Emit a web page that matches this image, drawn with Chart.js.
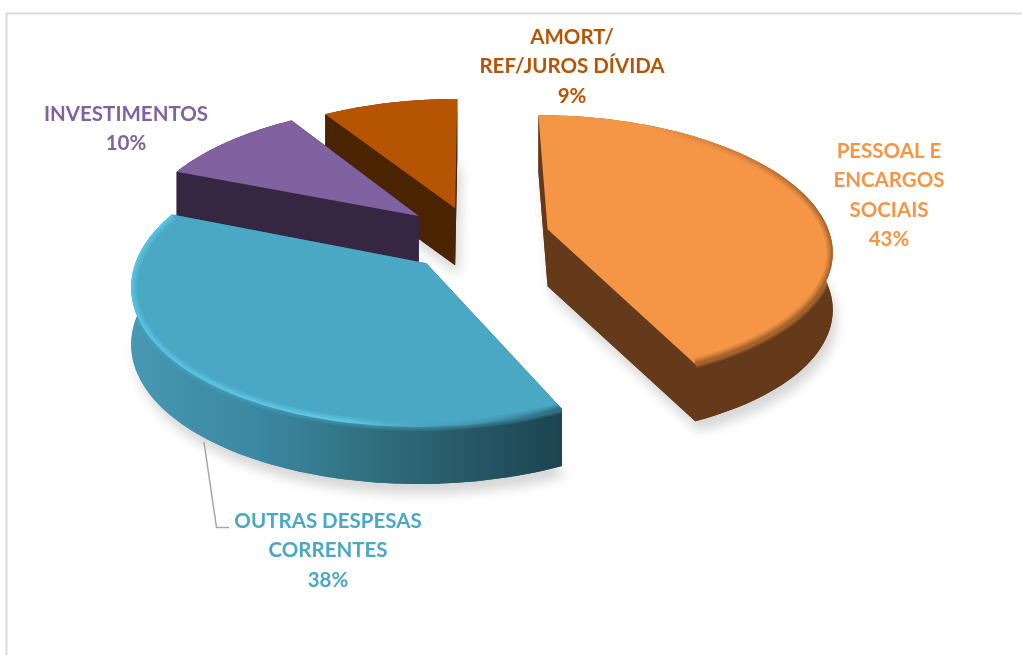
<!DOCTYPE html>
<html>
<head>
<meta charset="utf-8">
<title>Despesas</title>
<script src="https://cdn.jsdelivr.net/npm/chart.js@4/dist/chart.umd.min.js"></script>
<style>
  html, body { margin: 0; padding: 0; background: #fff; }
  canvas { display: block; }
</style>
</head>
<body>
<canvas id="pieChart" width="1022" height="655"></canvas>
<script>
// values, clockwise from 12 o'clock
const categories = ['PESSOAL E ENCARGOS SOCIAIS', 'OUTRAS DESPESAS CORRENTES', 'INVESTIMENTOS', 'AMORT/ REF/JUROS DÍVIDA'];
const percentages = [43, 38, 10, 9];
const labelLines = [
  ['PESSOAL E', 'ENCARGOS', 'SOCIAIS'],
  ['OUTRAS DESPESAS', 'CORRENTES'],
  ['INVESTIMENTOS'],
  ['AMORT/', 'REF/JUROS DÍVIDA']
];

const topColors = ['#F59546', '#4AA8C4', '#8062A0', '#B55504'];
const sideColors = ['#643A1B', null, '#352742', '#4A2300'];
const explode = [76, 75, 72, 66];
const nudgeX = [1, 6, 0, 0]; // the blue slice was dragged a bit off its own axis
const drawOrder = [3, 2, 0, 1];

// where the label blocks sit (centre x, first baseline y)
const labelPos = [[889, 158], [328, 528], [126, 121], [572, 44]];
const lineHeight = 29.3;

// fake 3D view
const view = { cx: 473, cy: 237, tilt: 0.4675, persp: 0.0005, depth: 57 };

function project(wx, wy, z) {
  const k = 1 / (1 - wy * view.persp);
  return [view.cx + wx * k, view.cy + wy * view.tilt * k + z];
}

function rimPoints(arc, z, nudge) {
  const mid = (arc.startAngle + arc.endAngle) / 2;
  const ox = Math.cos(mid) * arc.options.offset + nudge;
  const oy = Math.sin(mid) * arc.options.offset;
  const pts = [];
  for (let i = 0; i <= 80; i++) {
    const a = arc.startAngle + (arc.endAngle - arc.startAngle) * i / 80;
    pts.push(project(ox + Math.cos(a) * arc.outerRadius, oy + Math.sin(a) * arc.outerRadius, z));
  }
  return { apex: project(ox, oy, z), pts: pts };
}

function tracePoly(ctx, pts) {
  ctx.beginPath();
  pts.forEach((p, i) => i ? ctx.lineTo(p[0], p[1]) : ctx.moveTo(p[0], p[1]));
  ctx.closePath();
}

function traceLine(ctx, pts) {
  ctx.beginPath();
  pts.forEach((p, i) => i ? ctx.lineTo(p[0], p[1]) : ctx.moveTo(p[0], p[1]));
}

function sideFill(ctx, i) {
  if (sideColors[i]) return sideColors[i];
  const g = ctx.createLinearGradient(130, 0, 565, 0);
  g.addColorStop(0, '#4798B2');
  g.addColorStop(0.3, '#3A87A1');
  g.addColorStop(0.55, '#30707F');
  g.addColorStop(0.8, '#265664');
  g.addColorStop(1, '#1C4350');
  return g;
}

function bevelStroke(ctx, i) {
  if (i === 0) {
    const g = ctx.createLinearGradient(640, 130, 800, 340);
    g.addColorStop(0, 'rgba(70, 35, 10, 0)');
    g.addColorStop(0.6, 'rgba(70, 35, 10, 0.12)');
    g.addColorStop(1, 'rgba(70, 35, 10, 0.14)');
    return g;
  }
  if (i !== 1) return null;
  const g = ctx.createLinearGradient(130, 0, 565, 0);
  g.addColorStop(0, 'rgba(100, 215, 250, 0.18)');
  g.addColorStop(0.5, 'rgba(110, 225, 255, 0.2)');
  g.addColorStop(0.75, 'rgba(60, 130, 155, 0.08)');
  g.addColorStop(1, 'rgba(20, 60, 75, 0.2)');
  return g;
}

function drawSlice(ctx, arc, i) {
  const top = rimPoints(arc, 0, nudgeX[i]);
  const bottom = rimPoints(arc, view.depth, nudgeX[i]);
  const fill = sideFill(ctx, i);
  const first = top.pts[0], last = top.pts[top.pts.length - 1];
  const firstB = bottom.pts[0], lastB = bottom.pts[bottom.pts.length - 1];

  // soft shadow under the block
  ctx.save();
  ctx.shadowColor = 'rgba(0, 0, 0, 0.16)';
  ctx.shadowBlur = 12;
  ctx.shadowOffsetX = 4;
  ctx.shadowOffsetY = 10;
  ctx.fillStyle = fill;
  tracePoly(ctx, [bottom.apex].concat(bottom.pts));
  ctx.fill();
  ctx.restore();

  ctx.fillStyle = fill;
  tracePoly(ctx, [top.apex, first, firstB, bottom.apex]);
  ctx.fill();
  tracePoly(ctx, [top.apex, last, lastB, bottom.apex]);
  ctx.fill();
  const wall = top.pts.concat(bottom.pts.slice().reverse());
  tracePoly(ctx, wall);
  ctx.fill();

  const stroke = bevelStroke(ctx, i);

  // top colour bleeds a little onto the wall
  if (stroke) {
    ctx.save();
    tracePoly(ctx, wall);
    ctx.clip();
    ctx.strokeStyle = arc.options.backgroundColor;
    ctx.globalAlpha = 0.22;
    [8, 5, 2].forEach(w => {
      ctx.lineWidth = w;
      traceLine(ctx, top.pts);
      ctx.stroke();
    });
    ctx.restore();
  }

  ctx.fillStyle = arc.options.backgroundColor;
  tracePoly(ctx, [top.apex].concat(top.pts));
  ctx.fill();

  // rounded edge of the top face
  if (stroke) {
    ctx.save();
    tracePoly(ctx, [top.apex].concat(top.pts));
    ctx.clip();
    ctx.strokeStyle = stroke;
    ctx.lineJoin = 'round';
    [12, 8, 5, 3].forEach(w => {
      ctx.lineWidth = w;
      traceLine(ctx, top.pts);
      ctx.stroke();
    });
    ctx.restore();
  }
}

const pie3d = {
  id: 'pie3d',
  beforeDatasetsDraw(chart) {
    const ctx = chart.ctx;
    const arcs = chart.getDatasetMeta(0).data;

    // frame of the original chart area, only top and left show
    ctx.save();
    ctx.strokeStyle = '#D9D9D9';
    ctx.lineWidth = 2;
    ctx.beginPath();
    ctx.moveTo(6.5, 655);
    ctx.lineTo(6.5, 13.5);
    ctx.lineTo(1022, 13.5);
    ctx.stroke();
    ctx.restore();

    drawOrder.forEach(i => drawSlice(ctx, arcs[i], i));
    return false;
  },
  afterDraw(chart) {
    const ctx = chart.ctx;
    ctx.save();

    // leader line of the blue label
    ctx.strokeStyle = '#A6A6A6';
    ctx.lineWidth = 1.5;
    ctx.beginPath();
    ctx.moveTo(204, 442);
    ctx.lineTo(216.5, 527.5);
    ctx.lineTo(229, 527.5);
    ctx.stroke();

    ctx.font = 'bold 20.5px Lato';
    ctx.textAlign = 'center';
    ctx.textBaseline = 'alphabetic';
    percentages.forEach((v, i) => {
      ctx.fillStyle = topColors[i];
      const lines = labelLines[i].concat([v + '%']);
      lines.forEach((t, n) => ctx.fillText(t, labelPos[i][0], labelPos[i][1] + n * lineHeight));
    });
    ctx.restore();
  }
};

new Chart(document.getElementById('pieChart').getContext('2d'), {
  type: 'pie',
  data: {
    labels: categories,
    datasets: [{
      data: percentages,
      backgroundColor: topColors,
      offset: explode,
      borderWidth: 0
    }]
  },
  options: {
    responsive: false,
    animation: false,
    radius: 283,
    plugins: { legend: { display: false }, tooltip: { enabled: false } }
  },
  plugins: [pie3d]
});
</script>
</body>
</html>
